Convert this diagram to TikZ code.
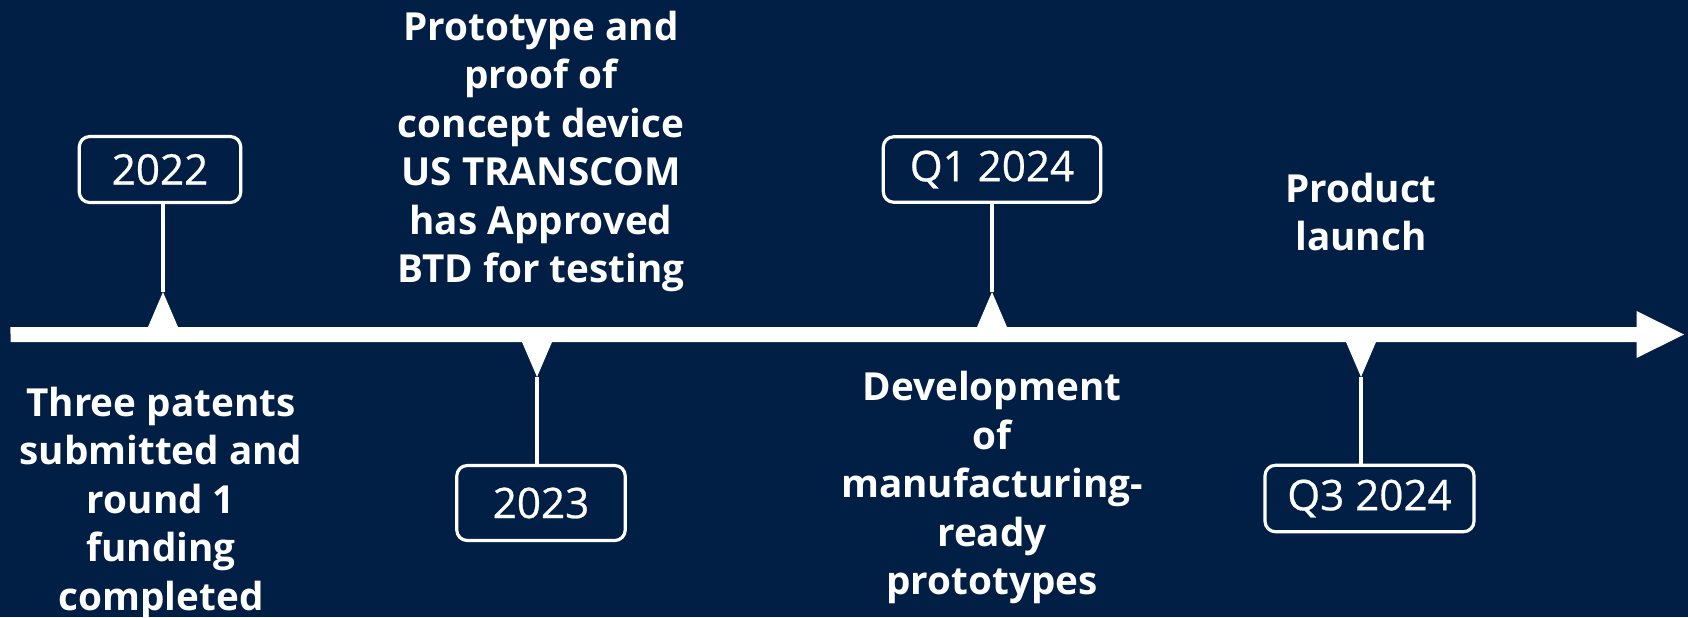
\documentclass[tikz,border=0pt]{standalone}
\usepackage{fontspec}
\setmainfont{Open Sans}
\newfontfamily\yearfont{Open Sans}[FakeBold=0.6]
\usetikzlibrary{positioning}
\definecolor{navy}{HTML}{011F45}

\begin{document}
\begin{tikzpicture}[
		line width=2pt,
		yearbox/.style={ draw=white, rounded corners=6pt, line width=1.8pt, text=white, inner sep=0pt, font=\yearfont\fontsize{24}{28}\selectfont, },
		mile/.style={ text=white, align=center, inner sep=0pt, font=\bfseries\fontsize{22}{27.6}\selectfont, },
		]
		\fill[navy](0,0)rectangle(33.76,12.34);
		\useasboundingbox(0,0)rectangle(33.76,12.34);
		
		% timeline arrow
		\coordinate(start)at(0.21,5.65);
		\coordinate(tip)at(33.68,5.65);
		\fill[white](start)++(0,-.15)--++(32.52,0)--++(0,-.32)--(tip)--++(-.95,.47)--++(0,-.32)--++(-32.52,0)--cycle;
		
		% markers
		\coordinate(t1)at(3.26,6.5);
		\coordinate(t2)at(10.74,4.8);
		\coordinate(t3)at(19.84,6.5);
		\coordinate(t4)at(27.22,4.8);
		\fill[white](t1)--++(-.3,-.7)--++(.6,0)--cycle;
		\fill[white](t2)--++(-.3,.7)--++(.6,0)--cycle;
		\fill[white](t3)--++(-.3,-.7)--++(.6,0)--cycle;
		\fill[white](t4)--++(-.3,.7)--++(.6,0)--cycle;
		
		% year boxes
		\node[yearbox,minimum width=3.23cm,minimum height=1.32cm](b1)at(3.2,8.95){2022};
		\node[yearbox,minimum width=3.37cm,minimum height=1.5cm](b2)at(10.82,2.28){2023};
		\node[yearbox,minimum width=4.35cm,minimum height=1.31cm](b3)at(19.84,8.95){Q1 2024};
		\node[yearbox,minimum width=4.18cm,minimum height=1.33cm](b4)at(27.39,2.37){Q3 2024};
		
		\draw[white](t1)--(t1|-b1.south);
		\draw[white](t2)--(t2|-b2.north);
		\draw[white](t3)--(t3|-b3.south);
		\draw[white](t4)--(t4|-b4.north);
		
		% milestones
		\node[mile,anchor=north](m1)at(3.22,4.64){Three patents\\submitted and\\round 1\\funding\\completed};
		\node[mile,anchor=north](m2)at(10.82,12.16){Prototype and\\proof of\\concept device\\US TRANSCOM\\has Approved\\BTD for testing};
		\node[mile,anchor=north](m3)at(19.84,4.95){Development\\of\\manufacturing-\\ready\\prototypes};
		\node[mile,anchor=north](m4)at(27.22,8.92){Product\\launch};
	\end{tikzpicture}
\end{document}
